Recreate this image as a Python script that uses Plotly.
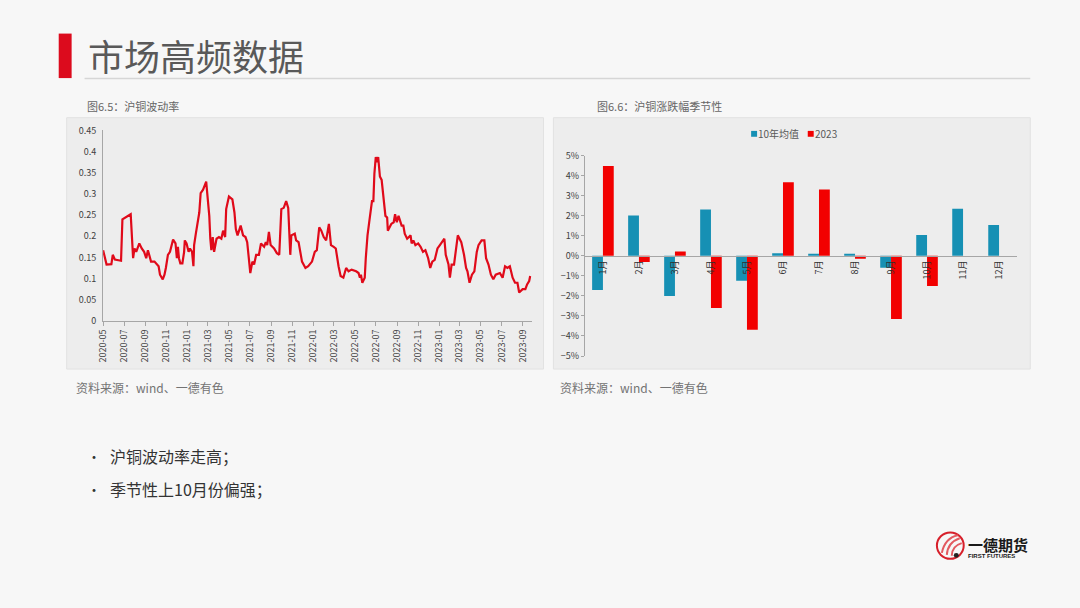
import plotly.graph_objects as go

# ---------------- data ----------------
vol_dates = [
    "2020-05-01","2020-05-11","2020-05-25","2020-05-29","2020-06-04","2020-06-22","2020-06-26","2020-07-07",
    "2020-07-20","2020-07-27","2020-07-31","2020-08-05","2020-08-14","2020-08-21","2020-08-28","2020-09-03",
    "2020-09-08","2020-09-17","2020-09-27","2020-10-09","2020-10-13","2020-10-21","2020-10-26","2020-10-30",
    "2020-11-05","2020-11-11","2020-11-17","2020-11-20","2020-11-27","2020-12-01","2020-12-04","2020-12-07",
    "2020-12-11","2020-12-17","2020-12-22","2020-12-24","2020-12-29","2021-01-04","2021-01-08","2021-01-14",
    "2021-01-18","2021-01-20","2021-01-25","2021-02-04","2021-02-08","2021-02-15","2021-02-24","2021-03-01",
    "2021-03-05","2021-03-08","2021-03-11","2021-03-15","2021-03-19","2021-03-26","2021-04-02","2021-04-09",
    "2021-04-14","2021-04-20","2021-04-23","2021-05-01","2021-05-11","2021-05-17","2021-05-21","2021-05-26",
    "2021-05-31","2021-06-04","2021-06-11","2021-06-18","2021-06-23","2021-06-28","2021-07-02","2021-07-08",
    "2021-07-13","2021-07-19","2021-07-27","2021-08-02","2021-08-11","2021-08-16","2021-08-20","2021-08-25",
    "2021-08-30","2021-09-09","2021-09-17","2021-09-24","2021-09-29","2021-09-30","2021-10-07","2021-10-14",
    "2021-10-20","2021-10-26","2021-10-29","2021-11-08","2021-11-12","2021-11-19","2021-11-29","2021-12-09",
    "2021-12-17","2021-12-28","2022-01-05","2022-01-11","2022-01-18","2022-01-24","2022-01-31","2022-02-07",
    "2022-02-15","2022-02-21","2022-03-01","2022-03-07","2022-03-15","2022-03-21","2022-03-29","2022-04-06",
    "2022-04-13","2022-04-22","2022-05-05","2022-05-12","2022-05-16","2022-05-19","2022-05-23","2022-05-30",
    "2022-06-02","2022-06-07","2022-06-13","2022-06-16","2022-06-20","2022-06-24","2022-06-27","2022-07-01",
    "2022-07-05","2022-07-08","2022-07-13","2022-07-18","2022-07-25","2022-07-29","2022-08-03","2022-08-05",
    "2022-08-15","2022-08-22","2022-08-26","2022-08-31","2022-09-05","2022-09-14","2022-09-19","2022-09-23",
    "2022-09-30","2022-10-10","2022-10-13","2022-10-18","2022-10-24","2022-11-01","2022-11-08","2022-11-15",
    "2022-11-22","2022-11-30","2022-12-06","2022-12-12","2022-12-19","2022-12-27","2023-01-03","2023-01-12",
    "2023-01-16","2023-01-20","2023-01-28","2023-02-01","2023-02-06","2023-02-13","2023-02-20","2023-02-24",
    "2023-03-06","2023-03-14","2023-03-20","2023-03-24","2023-03-30","2023-04-06","2023-04-13","2023-04-20",
    "2023-04-25","2023-05-04","2023-05-12","2023-05-17","2023-05-24","2023-05-31","2023-06-07","2023-06-14",
    "2023-06-26","2023-07-04","2023-07-11","2023-07-18","2023-07-25","2023-08-02","2023-08-09","2023-08-16",
    "2023-08-21","2023-08-25","2023-08-31","2023-09-08","2023-09-13","2023-09-19","2023-09-22",
]
vol_values = [
    0.167,0.133,0.134,0.156,0.145,0.142,0.240,0.245,
    0.252,0.148,0.171,0.163,0.183,0.171,0.163,0.148,
    0.167,0.140,0.140,0.129,0.109,0.098,0.109,0.125,
    0.156,0.163,0.186,0.192,0.183,0.148,0.175,0.148,
    0.136,0.136,0.163,0.190,0.183,0.163,0.171,0.163,
    0.129,0.179,0.206,0.256,0.302,0.310,0.329,0.287,
    0.248,0.194,0.167,0.198,0.163,0.194,0.198,0.194,
    0.213,0.198,0.264,0.294,0.287,0.256,0.217,0.202,
    0.213,0.225,0.202,0.198,0.186,0.140,0.113,0.140,
    0.133,0.156,0.156,0.183,0.175,0.186,0.179,0.210,
    0.179,0.171,0.160,0.156,0.225,0.264,0.267,0.283,
    0.267,0.156,0.202,0.206,0.190,0.186,0.140,0.125,
    0.129,0.140,0.163,0.167,0.221,0.213,0.198,0.190,
    0.229,0.179,0.175,0.171,0.129,0.106,0.102,0.125,
    0.117,0.121,0.117,0.113,0.102,0.109,0.090,0.102,
    0.148,0.202,0.240,0.264,0.283,0.283,0.348,0.387,
    0.375,0.387,0.341,0.333,0.287,0.248,0.244,0.213,
    0.229,0.233,0.252,0.233,0.248,0.225,0.225,0.206,
    0.194,0.202,0.183,0.190,0.179,0.183,0.175,0.163,
    0.167,0.148,0.125,0.140,0.144,0.171,0.179,0.190,
    0.194,0.156,0.133,0.102,0.133,0.133,0.183,0.202,
    0.186,0.156,0.125,0.117,0.090,0.109,0.117,0.163,
    0.179,0.190,0.190,0.148,0.133,0.109,0.098,0.109,
    0.113,0.102,0.129,0.125,0.129,0.102,0.090,0.090,
    0.067,0.071,0.075,0.075,0.086,0.094,0.106,
]

months = ["1月","2月","3月","4月","5月","6月","7月","8月","9月","10月","11月","12月"]
avg10 = [-1.71, 2.01, -2.00, 2.31, -1.25, 0.13, 0.10, 0.10, -0.60, 1.04, 2.35, 1.53]
y2023 = [4.48, -0.31, 0.21, -2.61, -3.69, 3.67, 3.30, -0.15, -3.15, -1.51, None, None]
series_names = ["10年均值", "2023"]
series_colors = ["#1690b4", "#f20000"]

# ---------------- figure ----------------
# The page keeps the browser's default 8px body margin, so the figure is
# sized to fill the 1080x608 window exactly inside that margin.
PAGE_MARGIN = 8
W, H = 1080 - 2 * PAGE_MARGIN, 608 - 2 * PAGE_MARGIN
def px(x):
    return (x - PAGE_MARGIN) / W
def py(y):
    return 1 - (y - PAGE_MARGIN) / H

FONT = "Noto Sans CJK SC, Noto Sans, sans-serif"
fig = go.Figure()

fig.add_trace(go.Scatter(
    x=vol_dates, y=vol_values, mode="lines",
    line=dict(color="#e00a1a", width=2.2),
    xaxis="x", yaxis="y", showlegend=False, hoverinfo="x+y",
))
for name, vals, col in zip(series_names, [avg10, y2023], series_colors):
    fig.add_trace(go.Bar(
        x=months, y=vals, name=name, marker_color=col, marker_line_width=0,
        xaxis="x2", yaxis="y2", showlegend=False,
    ))

ax_font = dict(family=FONT, size=9, color="#404040")
left_y = [py(320.7), py(126)]
right_y = [py(356.7), py(151.7)]

fig.update_layout(
    width=W, height=H, autosize=False,
    margin=dict(l=0, r=0, t=0, b=0),
    paper_bgcolor="#f7f7f7", plot_bgcolor="rgba(0,0,0,0)",
    font=dict(family=FONT, color="#404040"),
    barmode="group", bargap=0.4, bargroupgap=0,
    xaxis=dict(
        domain=[px(96.7), px(528)], anchor="y", type="date",
        range=["2020-05-01", "2023-09-26"],
        dtick="M2", tick0="2020-05-01", tickformat="%Y-%m", tickangle=-90,
        showgrid=False, zeroline=False, showline=True, linecolor="#a6a6a6", linewidth=1,
        ticks="outside", ticklen=4, tickcolor="#a6a6a6",
        tickfont=ax_font, fixedrange=True,
    ),
    yaxis=dict(
        domain=left_y, anchor="x", range=[0, 0.45], dtick=0.05, tick0=0,
        showgrid=False, zeroline=False, showline=True, linecolor="#a6a6a6", linewidth=1,
        ticks="", tickfont=ax_font, ticklabelstandoff=4,
    ),
    xaxis2=dict(
        domain=[px(581.7), px(1016.7)], anchor="free",
        position=(right_y[0] + right_y[1]) / 2,
        type="category", tickangle=-90,
        showgrid=False, zeroline=False, showline=True, linecolor="#a6a6a6", linewidth=1,
        ticks="", tickfont=dict(family=FONT, size=9, color="#303030"),
    ),
    yaxis2=dict(
        domain=right_y, anchor="x2", range=[-5, 5], dtick=1, tick0=0, ticksuffix="%",
        showgrid=False, zeroline=False, showline=True, linecolor="#a6a6a6", linewidth=1,
        ticks="outside", ticklen=3, tickcolor="#a6a6a6", tickfont=ax_font,
    ),
    showlegend=False,
)

shapes = [
    # panels
    dict(type="rect", xref="paper", yref="paper", x0=px(60), x1=px(540), y0=py(370), y1=py(113),
         fillcolor="#ededed", line=dict(color="#e2e2e2", width=1), layer="below"),
    dict(type="rect", xref="paper", yref="paper", x0=px(550), x1=px(1030), y0=py(370), y1=py(113),
         fillcolor="#ededed", line=dict(color="#e2e2e2", width=1), layer="below"),
    # title bar
    dict(type="rect", xref="paper", yref="paper", x0=px(52), x1=px(65), y0=py(72.5), y1=py(27),
         fillcolor="#dc0b1d", line=dict(width=0)),
    dict(type="line", xref="paper", yref="paper", x0=px(78), x1=px(1030), y0=py(73), y1=py(73),
         line=dict(color="#d6d6d6", width=1.5)),
    # legend swatches
    dict(type="rect", xref="paper", yref="paper", x0=px(749), x1=px(755), y0=py(132.5), y1=py(126.5),
         fillcolor=series_colors[0], line=dict(width=0)),
    dict(type="rect", xref="paper", yref="paper", x0=px(806), x1=px(812), y0=py(132.5), y1=py(126.5),
         fillcolor=series_colors[1], line=dict(width=0)),
    # logo
    dict(type="circle", xref="paper", yref="paper", x0=px(936), x1=px(963), y0=py(564), y1=py(537),
         line=dict(color="#d7202b", width=2), fillcolor="rgba(0,0,0,0)"),
    dict(type="path", xref="paper", yref="paper",
         path=f"M {px(941)} {py(558)} Q {px(944)} {py(543)} {px(957)} {py(540)}",
         line=dict(color="#e25a60", width=2)),
    dict(type="path", xref="paper", yref="paper",
         path=f"M {px(946)} {py(560)} Q {px(947)} {py(547)} {px(959)} {py(543)}",
         line=dict(color="#e25a60", width=2)),
    dict(type="path", xref="paper", yref="paper",
         path=f"M {px(951)} {py(561)} Q {px(951)} {py(551)} {px(961)} {py(548)}",
         line=dict(color="#e25a60", width=2)),
    dict(type="circle", xref="paper", yref="paper", x0=px(953), x1=px(958), y0=py(563), y1=py(558),
         line=dict(width=0), fillcolor="#222222"),
]
fig.update_layout(shapes=shapes)

def ann(text, x, y, size, color="#666666", xanchor="left", yanchor="middle", bold=False, family=FONT):
    fig.add_annotation(
        text=("<b>" + text + "</b>") if bold else text,
        x=px(x), y=py(y), xref="paper", yref="paper", xanchor=xanchor, yanchor=yanchor,
        showarrow=False, font=dict(family=family, size=size, color=color), borderpad=0,
    )

ann("市场高频数据", 80, 49, 36, color="#595959")
ann("图6.5：沪铜波动率", 79, 101, 11, color="#666666")
ann("图6.6：沪铜涨跌幅季节性", 593, 101, 11, color="#666666")
ann(series_names[0], 755, 129.5, 10, color="#595959")
ann(series_names[1], 812, 129.5, 10, color="#595959")
ann("资料来源：wind、一德有色", 68, 389, 12, color="#737373")
ann("资料来源：wind、一德有色", 556, 389, 12, color="#737373")
ann("•", 79, 459, 14, color="#333333")
ann("沪铜波动率走高；", 103, 459, 16, color="#333333")
ann("•", 79, 493, 14, color="#333333")
ann("季节性上10月份偏强；", 103, 493, 16, color="#333333")
ann("一德期货", 966, 549, 15, color="#1a1a1a", bold=True)
ann("FIRST FUTURES", 966, 561, 6, color="#1a1a1a", bold=True, family="Liberation Sans, Arial")

fig.write_html("out.html", post_script="document.body.style.background='#f7f7f7';",
               config={"displayModeBar": False, "responsive": False})
